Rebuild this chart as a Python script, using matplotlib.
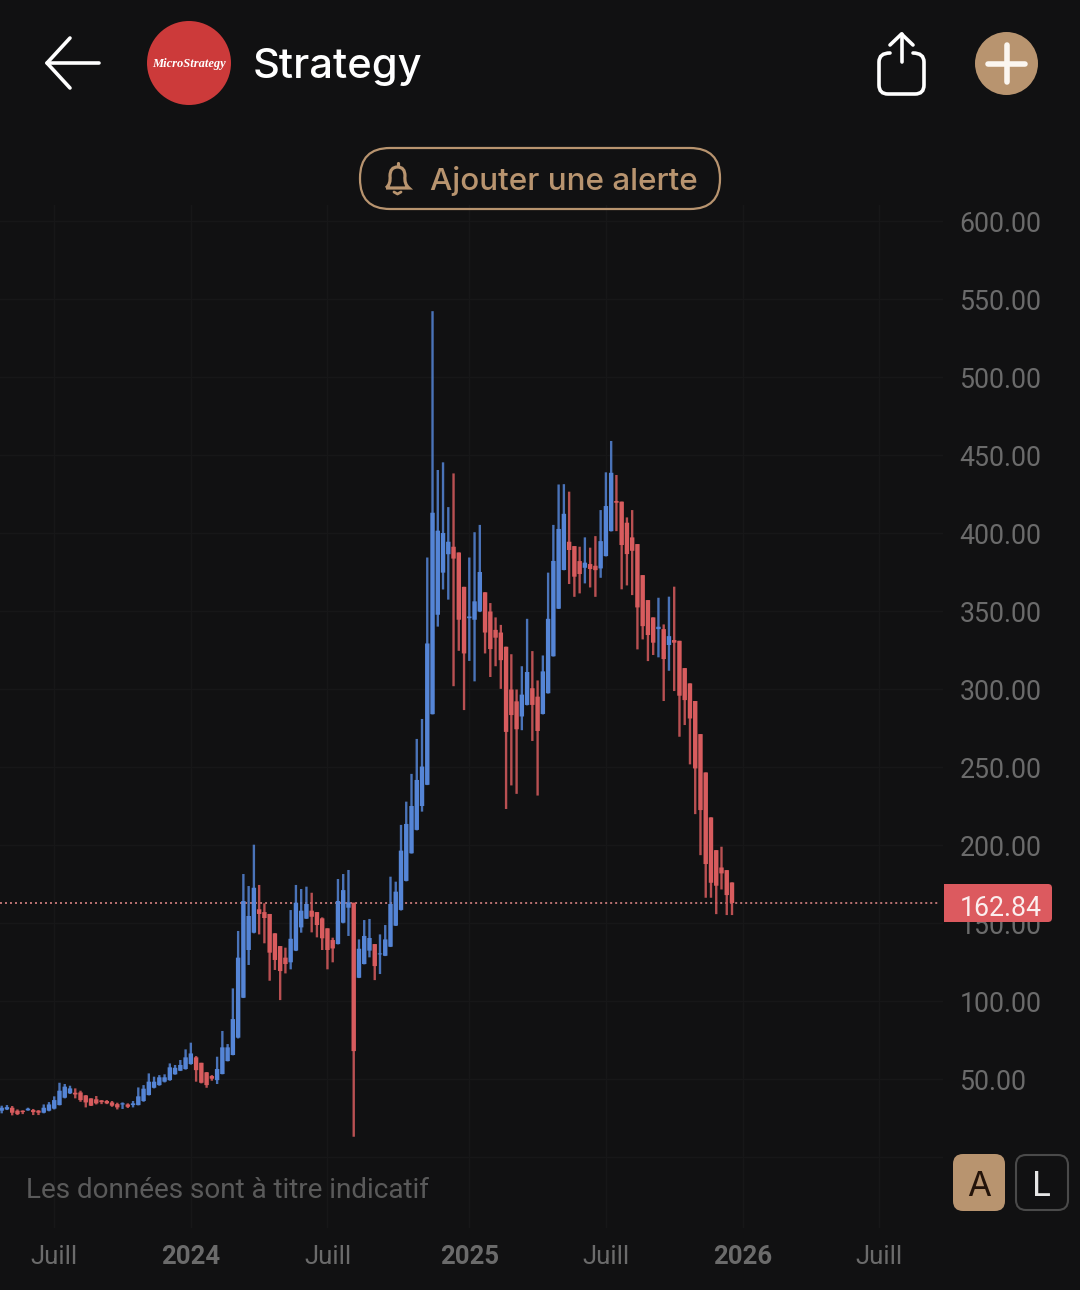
# Strategy weekly candles, app screenshot style

import matplotlib
matplotlib.use("Agg")
import matplotlib.pyplot as plt
from matplotlib.patches import Circle, FancyBboxPatch, PathPatch, Polygon
from matplotlib.path import Path

highs = [32.9,33.3,32.7,30.5,29.9,31.6,30.8,30.1,33.7,35.2,
         38.9,47.6,46.8,45.7,44.0,42.5,39.7,37.6,39.1,36.5,
         36.5,35.9,34.8,35.0,34.4,35.9,44.6,46.1,53.6,51.5,
         52.5,53.0,60.0,59.0,62.2,69.0,73.3,64.7,60.4,54.5,
         52.5,64.3,80.8,72.4,108.1,144.9,181.4,173.7,200.2,174.4,
         162.6,155.8,143.4,135.2,134.2,158.3,174.4,171.8,173.3,169.4,
         157.0,153.6,146.6,140.6,178.2,181.4,184.0,163.0,139.5,151.9,
         152.6,136.5,142.7,148.7,179.7,176.5,212.9,227.8,245.6,268.0,
         280.8,384.3,542.2,440.4,445.3,416.6,438.2,387.5,365.5,384.3,
         400.5,405.2,362.0,355.1,345.9,341.1,327.1,322.3,299.7,314.6,
         345.0,324.3,305.5,321.5,374.6,405.2,431.1,431.3,426.5,391.6,
         391.2,397.2,390.6,398.0,414.7,438.9,459.0,437.2,420.1,410.0,
         414.7,392.9,373.0,357.0,345.9,358.5,341.4,359.2,365.6,330.9,
         313.4,303.6,292.3,271.1,246.5,217.7,196.7,198.9,183.9,176.0]

lows = [28.0,30.1,26.7,26.9,27.5,29.7,26.9,26.9,28.0,29.3,
        30.5,33.1,37.6,40.4,37.6,35.4,31.8,32.7,33.7,33.9,
        33.9,32.2,30.5,30.8,31.4,31.8,33.1,35.4,39.5,44.0,
        45.7,47.8,48.9,52.8,55.1,56.0,59.2,48.3,47.2,44.4,
        48.9,46.8,53.0,61.3,65.2,76.0,101.9,123.1,143.4,142.7,
        137.0,113.0,119.9,100.6,117.7,120.3,132.0,143.8,152.6,144.0,
        140.8,132.7,120.3,124.8,136.3,149.8,141.7,13.0,114.7,123.5,
        128.0,113.4,117.3,128.8,134.6,148.1,158.0,176.7,194.5,209.4,
        221.4,238.4,283.7,340.0,363.8,357.3,301.8,324.5,286.5,318.0,
        304.9,349.3,322.8,307.7,314.6,300.1,223.1,238.2,232.8,273.6,
        289.5,266.7,231.7,283.7,297.1,320.8,351.3,376.1,367.3,359.1,
        361.3,367.7,365.1,359.1,371.3,385.0,401.0,401.2,363.9,366.4,
        360.2,325.4,331.8,317.9,321.8,320.3,292.3,311.7,298.7,269.4,
        276.9,251.7,219.8,193.5,166.2,166.2,155.7,171.5,155.1,155.1]

opens = [29.7,30.5,31.6,29.7,29.7,29.9,30.1,29.7,28.4,29.7,
         31.0,33.3,38.0,40.8,41.2,41.4,39.5,37.6,37.0,36.3,
         35.9,35.0,33.9,33.7,33.7,33.3,33.3,35.9,39.7,44.4,
         46.1,48.3,49.3,53.0,55.3,56.4,59.6,63.9,60.4,54.3,
         51.9,49.3,53.2,61.5,65.4,76.5,102.1,132.7,143.8,158.8,
         157.0,155.8,143.4,135.2,127.8,124.8,132.3,147.2,152.8,157.9,
         157.0,153.0,146.6,139.1,136.5,150.2,159.8,163.0,114.9,123.7,
         132.3,136.5,129.9,129.0,134.8,148.3,158.4,177.0,194.7,209.7,
         225.0,238.6,283.9,347.6,374.6,386.4,391.2,387.5,365.5,345.4,
         344.4,349.7,362.0,349.7,337.9,336.2,327.1,299.7,292.1,282.4,
         289.8,300.5,295.1,284.0,297.3,321.0,351.5,376.3,394.4,391.6,
         382.0,377.7,380.1,379.0,377.3,385.2,401.2,420.5,420.1,406.6,
         397.2,392.9,373.0,357.0,345.9,338.4,338.4,328.2,331.4,330.9,
         313.4,303.6,292.3,271.1,246.5,217.7,196.7,185.6,183.9,176.0]

closes = [31.6,32.0,28.4,27.5,28.8,31.0,28.8,28.4,31.6,33.7,
          36.5,42.5,45.1,44.0,40.1,36.5,35.0,32.9,34.4,35.2,
          34.4,32.9,31.8,34.4,32.2,34.4,38.9,43.8,48.3,48.3,
          51.1,51.1,57.5,57.2,59.0,63.9,66.4,55.7,47.6,46.1,
          50.2,56.4,70.3,70.3,88.4,127.8,164.1,154.5,172.6,155.8,
          153.2,131.0,126.3,119.2,123.7,139.9,163.0,157.9,162.2,154.0,
          148.7,140.2,132.7,133.7,164.1,171.1,163.2,67.9,133.5,141.7,
          140.4,122.4,130.5,139.5,162.2,170.1,196.4,213.5,225.0,241.7,
          250.3,329.2,413.0,401.5,400.0,394.4,383.6,344.4,322.8,346.5,
          356.2,375.0,336.2,325.6,332.9,318.5,272.5,283.3,274.2,296.4,
          310.9,289.8,273.1,311.3,345.0,382.1,402.6,412.3,389.1,372.0,
          373.7,381.0,376.9,376.2,394.8,417.3,438.6,419.4,392.3,386.5,
          388.6,352.3,340.3,334.6,329.7,339.9,319.2,333.9,329.7,295.7,
          292.9,281.1,249.1,222.4,187.8,175.8,173.9,181.8,167.9,162.84]

last_price = 162.84
price_ticks = [0, 50, 100, 150, 200, 250, 300, 350, 400, 450, 500, 550, 600]
week_ticks = [10, 36, 62, 89, 115, 141, 167]
week_labels = ["Juill", "2024", "Juill", "2025", "Juill", "2026", "Juill"]

BG = "#111112"
GRID = "#171718"
UP = "#5585d6"
DOWN = "#d85c5e"
TAN = "#b8946f"
GREY = "#6b6b6b"

W, H = 1080, 1290
fig = plt.figure(figsize=(W / 100, H / 100), dpi=100, facecolor=BG)

# chart pane, px box picked so the weeks and prices land where they do on screen
ax = fig.add_axes([0, 1 - 1228 / H, 943 / W, (1228 - 205) / H], facecolor=BG)
ax.set_xlim(-0.324, 179.16)
ax.set_ylim(-45.5, 610.26)
for s in ax.spines.values():
    s.set_visible(False)

ax.set_xticks(week_ticks)
ax.set_xticklabels(week_labels)
ax.set_yticks(price_ticks)
ax.set_yticklabels(["" if p == 0 else f"{p:.2f}" for p in price_ticks])
ax.yaxis.tick_right()
ax.tick_params(axis="y", length=0, pad=12, labelsize=19.2, labelcolor=GREY)
ax.tick_params(axis="x", length=0, pad=12.5, labelsize=18.5, labelcolor=GREY)
for lab in ax.get_yticklabels():
    lab.set_fontfamily("Roboto")
    lab.set_verticalalignment("center_baseline")
for lab in ax.get_xticklabels():
    lab.set_fontfamily("Roboto")
    if lab.get_text().isdigit():
        lab.set_fontweight("bold")
ax.grid(True, color=GRID, lw=1)
ax.set_axisbelow(True)

xs = list(range(len(closes)))
colors = [UP if c >= o else DOWN for o, c in zip(opens, closes)]
wicks = ax.vlines(xs, lows, highs, colors=colors, lw=1.7, alpha=0.85, zorder=3)
wicks.set_snap(False)
bodies = ax.bar(xs, [abs(c - o) for o, c in zip(opens, closes)],
                bottom=[min(o, c) for o, c in zip(opens, closes)],
                width=0.84, color=colors, zorder=4)
for b in bodies:
    b.set_snap(False)
ax.plot([-0.324, 178.5], [last_price, last_price], color="#c87a7a", lw=1.3, ls=(0, (1.1, 1.67)), zorder=2)

# app chrome on top, in screen pixels
ui = fig.add_axes([0, 0, 1, 1], facecolor="none")
ui.set_xlim(0, W)
ui.set_ylim(H, 0)
ui.axis("off")

def stroke(pts, color="white", lw=2.6):
    ui.plot(*zip(*pts), color=color, lw=lw, solid_capstyle="round", solid_joinstyle="round")

stroke([(99, 63), (47, 63)])
stroke([(70, 38), (47, 63), (70, 88)])

ui.add_patch(Circle((189, 63), 42, fc="#cc3a3a", lw=0))
ui.text(189, 63.5, "MicroStrategy", color="white", fontsize=9, fontweight="bold", fontstyle="italic",
        family="Liberation Serif", ha="center", va="center")
ui.text(253, 63, "Strategy", color="white", fontsize=30, fontweight="medium", family="Inter",
        ha="left", va="center_baseline")

# share icon
box = Path([(890, 53), (879, 53), (879, 62), (879, 85), (879, 94), (888, 94), (915, 94), (924, 94), (924, 85),
            (924, 62), (924, 53), (913, 53)],
           [Path.MOVETO, Path.CURVE3, Path.CURVE3, Path.LINETO, Path.CURVE3, Path.CURVE3, Path.LINETO, Path.CURVE3,
            Path.CURVE3, Path.LINETO, Path.CURVE3, Path.CURVE3])
ui.add_patch(PathPatch(box, fc="none", ec="white", lw=2.6, capstyle="round"))
stroke([(901.5, 34), (901.5, 62)])
stroke([(890, 45), (901.5, 34), (913, 45)])

ui.add_patch(Circle((1006.5, 63.5), 31.5, fc=TAN, lw=0))
stroke([(988, 63.5), (1025, 63.5)], color="#fbf6f0", lw=4)
stroke([(1006.5, 45), (1006.5, 82)], color="#fbf6f0", lw=4)

# alert pill
ui.add_patch(FancyBboxPatch((360 + 30, 148 + 30), 360 - 60, 61 - 60, boxstyle="round,pad=30,rounding_size=30",
                            fc="none", ec=TAN, lw=1.6))
bell = Path([(386, 188), (391, 184), (390, 176), (390, 167), (397.5, 167), (405, 167), (405, 176), (404, 184),
             (409, 188), (386, 188)],
            [Path.MOVETO, Path.CURVE3, Path.CURVE3, Path.CURVE3, Path.CURVE3, Path.CURVE3, Path.CURVE3, Path.CURVE3,
             Path.CURVE3, Path.LINETO])
ui.add_patch(PathPatch(bell, fc="none", ec=TAN, lw=2.3))
stroke([(397.5, 163), (397.5, 166)], color=TAN, lw=2.3)
stroke([(394, 192), (397.5, 194), (401, 192)], color=TAN, lw=2)
ui.text(430, 177.5, "Ajouter une alerte", color=TAN, fontsize=22.6, fontweight="medium", family="Inter",
        ha="left", va="center_baseline")

# last price badge, square on the left, rounded on the right
ui.add_patch(FancyBboxPatch((948, 888), 100, 30, boxstyle="round,pad=4,rounding_size=4", fc="#dc5a5f", ec="none"))
ui.add_patch(Polygon([(944, 884), (960, 884), (960, 922), (944, 922)], fc="#dc5a5f", ec="none"))
ui.text(1001, 905, f"{last_price:.2f}", color="#fbeeee", fontsize=19.2, family="Roboto", ha="center", va="center_baseline")

ui.text(26, 1187.5, "Les données sont à titre indicatif", color="#5a5a5a", fontsize=20.1, family="Roboto",
        ha="left", va="center_baseline")

# A / L buttons
ui.add_patch(FancyBboxPatch((963, 1164), 32, 37, boxstyle="round,pad=10,rounding_size=10", fc=TAN, ec="none"))
ui.text(979, 1184, "A", color="#24140a", fontsize=25, family="Inter", ha="center", va="center_baseline")
ui.add_patch(FancyBboxPatch((1026, 1165), 32, 35, boxstyle="round,pad=10,rounding_size=10", fc=BG, ec="#4a4a4a", lw=1.5))
ui.text(1042, 1184, "L", color="#e6e6e6", fontsize=25, family="Inter", ha="center", va="center_baseline")

fig.savefig("out.png", dpi=100, facecolor=BG)
